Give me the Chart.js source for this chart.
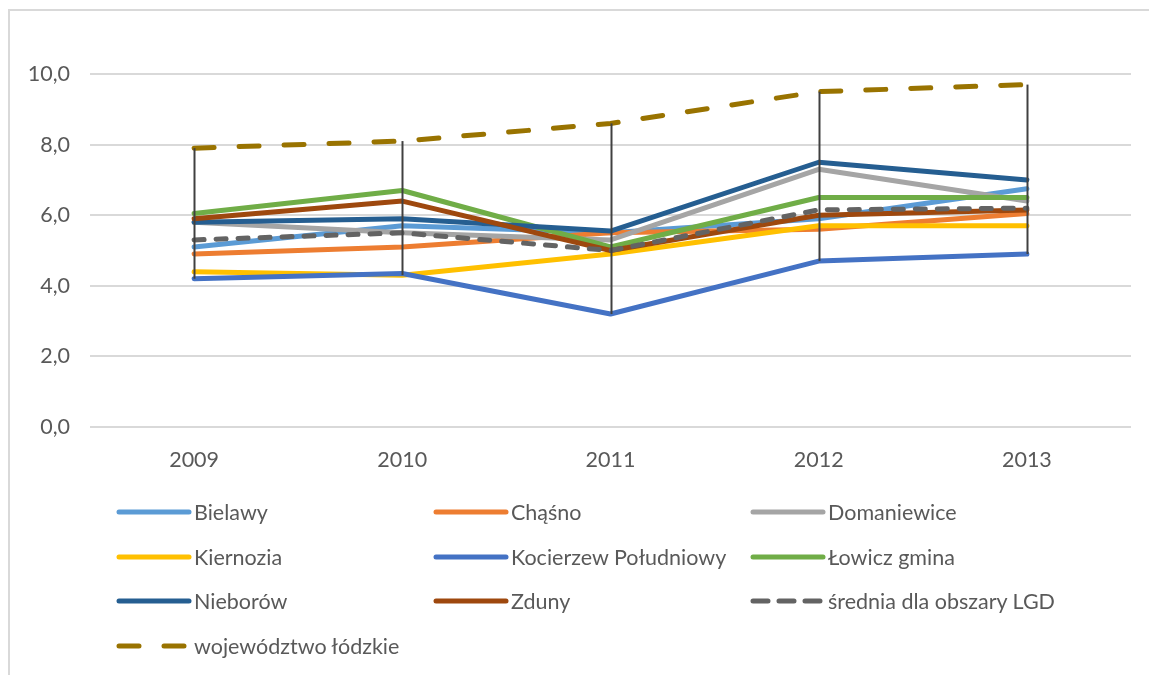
<!DOCTYPE html>
<html>
<head>
<meta charset="utf-8">
<script src="https://cdn.jsdelivr.net/npm/chart.js@4"></script>
<style>
  html, body { margin: 0; padding: 0; background: #fff; }
  #wrap { position: relative; width: 1149px; height: 675px; overflow: hidden; font-family: Lato, sans-serif; }
  #frame { position: absolute; left: 8px; top: 9px; width: 1200px; height: 700px; border-left: 2px solid #d9d9d9; border-top: 2px solid #d9d9d9; }
  #chart { position: absolute; left: 0; top: 0; }
  #legend { position: absolute; left: 116px; top: 490px; display: grid; grid-template-columns: 317px 317px 330px; grid-auto-rows: 44.5px; }
  .item { display: flex; align-items: center; color: #595959; font-size: 21.5px; white-space: nowrap; }
  .item canvas { margin-right: 2px; }
</style>
</head>
<body>
<div id="wrap">
  <div id="frame"></div>
  <canvas id="chart" width="1149" height="675"></canvas>
  <div id="legend"></div>
</div>
<script>
const YEARS = ['2009', '2010', '2011', '2012', '2013'];
const NAMES = ['Bielawy', 'Chąśno', 'Domaniewice', 'Kiernozia', 'Kocierzew Południowy',
    'Łowicz gmina', 'Nieborów', 'Zduny', 'średnia dla obszary LGD', 'województwo łódzkie'];

const bielawy     = [5.1, 5.7, 5.5, 5.9, 6.75];
const chasno      = [4.9, 5.1, 5.5, 5.6, 6.05];
const domaniewice = [5.8, 5.5, 5.3, 7.3, 6.4];
const kiernozia   = [4.4, 4.3, 4.9, 5.7, 5.7];
const kocierzew   = [4.2, 4.35, 3.2, 4.7, 4.9];
const lowicz      = [6.05, 6.7, 5.1, 6.5, 6.5];
const nieborow    = [5.8, 5.9, 5.55, 7.5, 7.0];
const zduny       = [5.9, 6.4, 5.0, 6.0, 6.15];
const srednia     = [5.3, 5.5, 5.0, 6.15, 6.2];
const wojewodztwo = [7.9, 8.1, 8.6, 9.5, 9.7];

const Y_TICKS = [0, 2, 4, 6, 8, 10];

const SERIES = [bielawy, chasno, domaniewice, kiernozia, kocierzew, lowicz, nieborow, zduny, srednia, wojewodztwo];
const COLORS = ['#5B9BD5', '#ED7D31', '#A5A5A5', '#FFC000', '#4472C4', '#70AD47', '#255E91', '#9E480E', '#636363', '#997300'];
const DASHES = [[], [], [], [], [], [], [], [], [10, 12], [20, 25]];

// vertical high-low lines at each category, like Excel
const highLowLines = {
    id: 'highLow',
    afterDatasetsDraw(chart) {
        const { ctx, scales: { x, y } } = chart;
        ctx.save();
        ctx.strokeStyle = '#404040';
        ctx.lineWidth = 2;
        YEARS.forEach((yr, i) => {
            const vals = SERIES.map(s => s[i]);
            const px = Math.round(x.getPixelForValue(i)) + 0.5;
            ctx.beginPath();
            ctx.moveTo(px, y.getPixelForValue(Math.max(...vals)));
            ctx.lineTo(px, y.getPixelForValue(Math.min(...vals)));
            ctx.stroke();
        });
        ctx.restore();
    }
};

const chart = new Chart(document.getElementById('chart'), {
    type: 'line',
    data: {
        labels: YEARS,
        datasets: SERIES.map((data, i) => ({
            label: NAMES[i],
            data: data,
            borderColor: COLORS[i],
            backgroundColor: COLORS[i],
            borderWidth: 5,
            borderDash: DASHES[i],
            borderCapStyle: 'round',
            borderJoinStyle: 'round',
            pointRadius: 0,
            tension: 0,
            order: -i
        }))
    },
    options: {
        responsive: false,
        animation: false,
        layout: { padding: { top: 74, right: 18, left: 0, bottom: 0 } },
        plugins: { legend: { display: false }, tooltip: { enabled: false } },
        scales: {
            x: {
                offset: true,
                grid: { display: false, drawTicks: false },
                border: { display: false },
                ticks: { color: '#595959', font: { family: 'Lato', size: 21.5 }, padding: 20, maxRotation: 0 },
                afterFit: s => { s.height = 248; }
            },
            y: {
                min: 0, max: 10,
                afterBuildTicks: s => { s.ticks = Y_TICKS.map(v => ({ value: v })); },
                grid: { color: '#d9d9d9', lineWidth: 2, drawTicks: false },
                border: { display: false },
                ticks: {
                    color: '#595959', font: { family: 'Lato', size: 21.5 }, padding: 20,
                    callback: v => v.toFixed(1).replace('.', ',')
                },
                afterFit: s => { s.width = 90; }
            }
        }
    },
    plugins: [highLowLines]
});

// legend in 3 columns, built from the datasets
const legendEl = document.getElementById('legend');
NAMES.forEach((name, i) => {
    const item = document.createElement('div');
    item.className = 'item';
    const c = document.createElement('canvas');
    c.width = 76; c.height = 10;
    const g = c.getContext('2d');
    g.strokeStyle = COLORS[i];
    g.lineWidth = 5;
    g.lineCap = 'round';
    g.setLineDash(i === 8 ? [15, 11] : i === 9 ? [20, 25] : []);
    g.beginPath();
    g.moveTo(3, 5); g.lineTo(73, 5);
    g.stroke();
    item.appendChild(c);
    const t = document.createElement('span');
    t.textContent = name;
    item.appendChild(t);
    legendEl.appendChild(item);
});
</script>
</body>
</html>
